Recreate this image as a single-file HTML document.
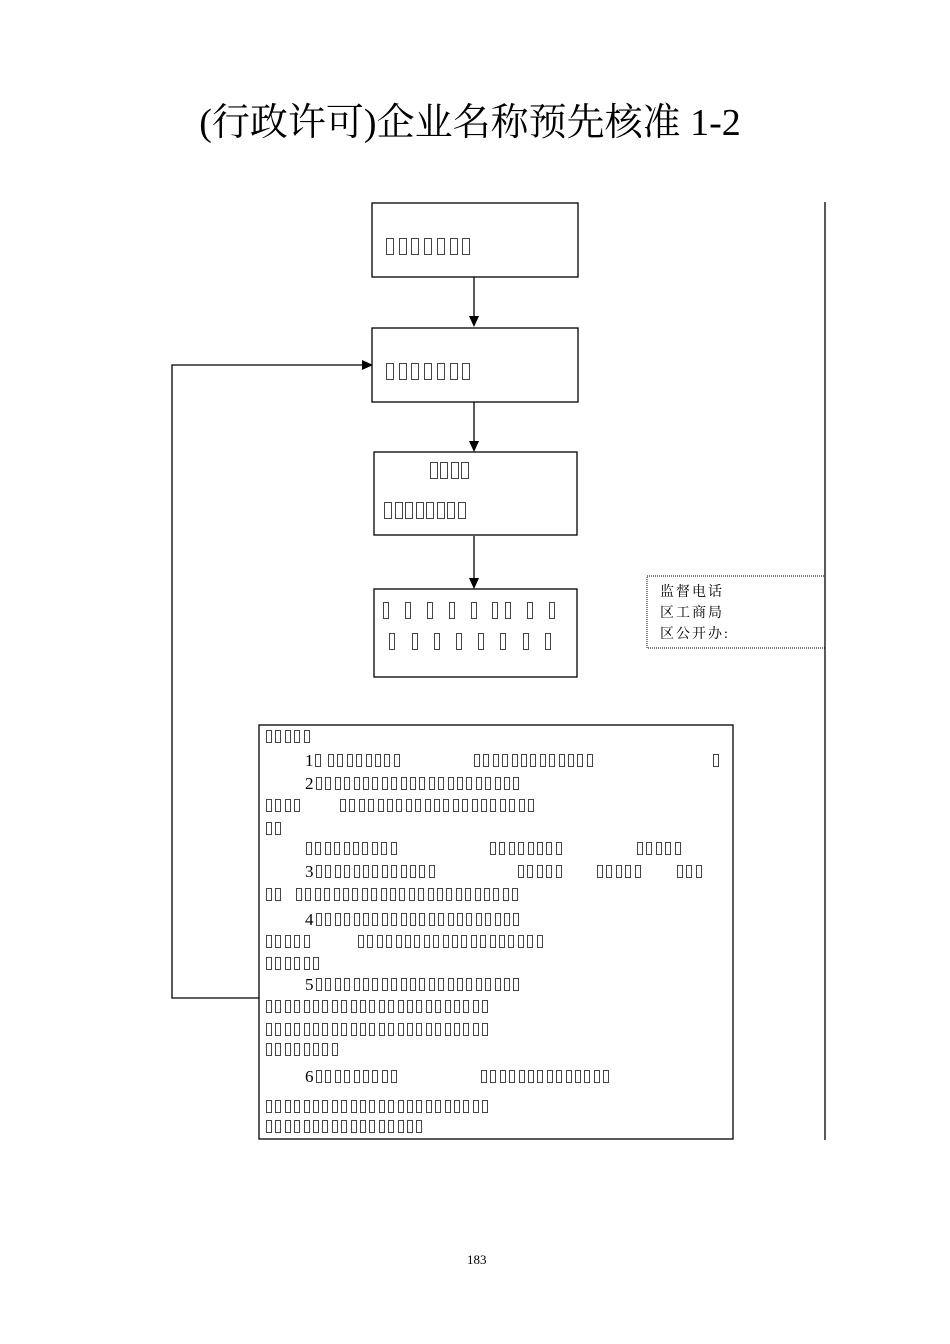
<!DOCTYPE html>
<html><head><meta charset="utf-8"><style>
html,body{margin:0;padding:0;background:#fff;}
#pg{position:relative;width:950px;height:1344px;overflow:hidden;}
.t{position:absolute;box-sizing:border-box;border:1px solid #444;}
.n{position:absolute;font-family:"Liberation Serif",serif;font-size:17px;line-height:17px;color:#000;}
.title{position:absolute;left:0;width:940px;top:98px;text-align:center;font-family:"Liberation Serif","Noto Serif CJK SC",serif;font-size:38px;line-height:50px;white-space:nowrap;}
.mon{position:absolute;font-family:"Liberation Serif","Noto Serif CJK SC",serif;font-size:14px;line-height:21px;letter-spacing:2px;}
</style></head><body><div id="pg">
<div class="title">(行政许可)企业名称预先核准 1-2</div>
<svg width="950" height="1344" style="position:absolute;left:0;top:0">
<g stroke="#000" stroke-width="1.3" fill="none">
<rect x="372" y="203" width="206" height="74"/>
<rect x="372" y="328" width="206" height="74"/>
<rect x="374" y="452" width="203" height="83"/>
<rect x="374" y="589" width="203" height="88"/>
<rect x="259" y="725" width="474" height="414"/>
<line x1="825" y1="202" x2="825" y2="1140"/>
<line x1="474" y1="277" x2="474" y2="318"/>
<line x1="474" y1="402" x2="474" y2="443"/>
<line x1="474" y1="536" x2="474" y2="580"/>
<polyline points="259,998 172,998 172,365 364,365"/>
</g>
<rect x="647" y="576" width="178" height="72" fill="none" stroke="#000" stroke-width="1" stroke-dasharray="1,1"/>
<g fill="#000">
<polygon points="469,316 479,316 474,327"/>
<polygon points="469,441 479,441 474,452"/>
<polygon points="469,578 479,578 474,589"/>
<polygon points="362,360 362,370 373,365"/>
</g>
</svg>
<div class="mon" style="left:660px;top:582px">监督电话<br>区工商局<br>区公开办:</div>
<div class="n" style="left:467px;top:1251px;font-size:13px">183</div>
<div class="n" style="left:305px;top:752px">1</div>
<div class="n" style="left:305px;top:775px">2</div>
<div class="n" style="left:305px;top:863px">3</div>
<div class="n" style="left:305px;top:911px">4</div>
<div class="n" style="left:305px;top:976px">5</div>
<div class="n" style="left:305px;top:1068px">6</div>
<div id="tofu"></div>
<script>
var c=document.getElementById('tofu'),h='';
function run(y,s,e,p,w,hh){p=p||9.4;w=w||6;hh=hh||13;var n=Math.round((e-s-w)/p)+1;for(var i=0;i<n;i++)h+='<div class="t" style="left:'+(s+i*p).toFixed(1)+'px;top:'+y+'px;width:'+w+'px;height:'+hh+'px"></div>';}
var R=[[730,266,313],[754,315,321],[754,328,403],[754,474,597],[754,713,719],
[777,316,520],[799,266,303],[799,340,530],[822,266,284],
[842,306,399],[842,490,565],[842,637,683],
[865,316,434],[865,518,565],[865,597,643],[865,677,703],
[888,266,284],[888,296,515],[913,316,520],[935,266,313],[935,358,540],[957,266,322],
[978,316,520],[1000,266,492],[1023,266,492],[1043,266,341],
[1070,316,400],[1070,481,606],[1100,266,492],[1120,266,418]];
R.forEach(function(r){run(r[0],r[1],r[2]);});
run(238,386,472,12.7,8,17);run(363,386,472,12.7,8,17);
run(462,430,468,10.3,8,17);run(502,384,464,10.5,8,17);
[383,405,427,449,471,492,505,527,549].forEach(function(x){run(602,x,x+6,10,6,17);});
[389,412,434,456,478,500,523,545].forEach(function(x){run(633,x,x+6,10,6,17);});
c.innerHTML=h;
</script>
</div></body></html>
